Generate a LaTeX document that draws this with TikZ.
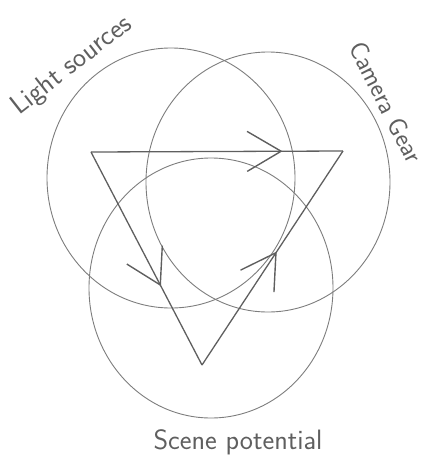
\documentclass[tikz,border=0pt]{standalone}
\usetikzlibrary{arrows.meta,decorations.markings}
\definecolor{pencil}{RGB}{95,95,95}
\definecolor{pencillight}{RGB}{125,125,125}
\tikzset{
  ring/.style={draw=pencillight, line width=0.9pt},
  edge/.style={draw=pencil, line width=1.3pt},
  label/.style={text=pencil, font=\sffamily\fontsize{28}{30}\selectfont, inner sep=0pt},
  barbat/.style={postaction={decorate, decoration={markings,
      mark=at position #1 with {\arrow[pencil, line width=1.4pt]{Straight Barb[length=34pt,width=40pt]}}}}}
}
\begin{document}
\begin{tikzpicture}[x=1pt,y=-1pt]
  \useasboundingbox (0,0) rectangle (428,459);
  % circles
  \draw[ring] (171,178) ellipse [x radius=124, y radius=130];
  \draw[ring] (268,182) ellipse [x radius=122, y radius=130];
  \draw[ring] (211,288) ellipse [x radius=122, y radius=130];
  % triangle vertices
  \coordinate (tl) at (91,152);
  \coordinate (tr) at (343,151);
  \coordinate (bt) at (202,365);
  \draw[edge, barbat=0.76] (tl) -- (tr);
  \draw[edge, barbat=0.63] (tl) -- (bt);
  \draw[edge, barbat=0.53] (bt) -- (tr);
  % labels
  \node[label, rotate=38] (light) at (72,66) {Light sources};
  \node[label, rotate=-63, font=\sffamily\fontsize{26}{28}\selectfont] (camera) at (386,102) {Camera Gear};
  \node[label] (scene) at (238,442) {Scene potential};
\end{tikzpicture}
\end{document}
